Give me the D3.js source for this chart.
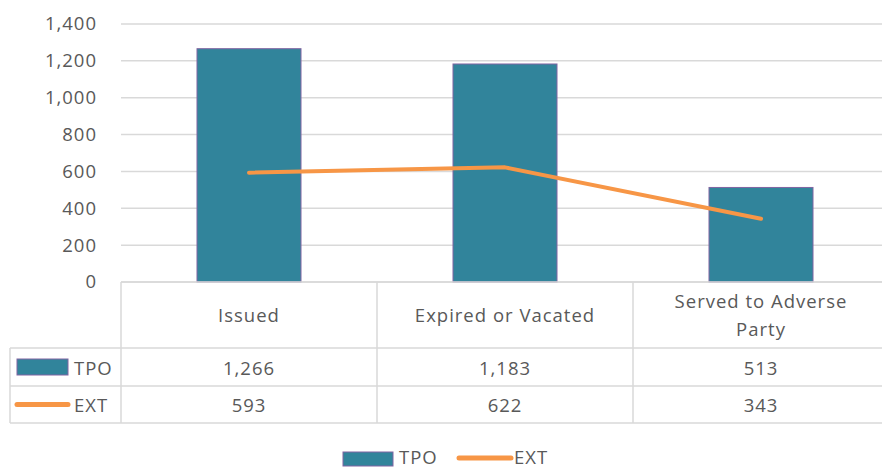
<!DOCTYPE html>
<html><head><meta charset="utf-8">
<script src="https://cdn.jsdelivr.net/npm/d3@7"></script>
<style>body{margin:0;background:#fff}svg{display:block}text{font-family:"Open Sans",sans-serif;fill:#595959;letter-spacing:1px}</style>
</head><body><svg id="c" width="882" height="468"></svg>
<script>
const categories = ["Issued", "Expired or Vacated", "Served to Adverse Party"];
const categoryLines = [["Issued"], ["Expired or Vacated"], ["Served to Adverse", "Party"]];
const tpo = [1266, 1183, 513];
const ext = [593, 622, 343];
const yTicks = [0, 200, 400, 600, 800, 1000, 1200, 1400];
const seriesNames = ["TPO", "EXT"];

const svg = d3.select("#c");
const barColor = "#31849b", barStroke = "#8064a2", lineColor = "#f79646", gridColor = "#d9d9d9";
const fs = 18.5;
const x = d3.scaleBand().domain(categories).range([121, 889]).paddingInner(0).paddingOuter(0);
const y = d3.scaleLinear().domain([0, 1400]).range([282, 24]);
const fmt = d3.format(",");

svg.append("g").selectAll("line").data(yTicks).join("line")
  .attr("x1", 121).attr("x2", 889).attr("y1", d => y(d)).attr("y2", d => y(d))
  .attr("stroke", gridColor).attr("stroke-width", 1.5);

const yAxis = d3.axisLeft(y).tickValues(yTicks).tickFormat(fmt).tickSize(0).tickPadding(0);
const ya = svg.append("g").attr("transform", "translate(97,0)").call(yAxis);
ya.select(".domain").remove();
ya.selectAll("text").style("font-size", fs + "px").style("font-family", "'Open Sans',sans-serif").attr("fill", "#595959");

const bw = 104;
svg.append("g").selectAll("rect").data(tpo).join("rect")
  .attr("x", (d, i) => x(categories[i]) + x.bandwidth() / 2 - bw / 2)
  .attr("width", bw)
  .attr("y", d => y(d)).attr("height", d => y(0) - y(d))
  .attr("fill", barColor).attr("stroke", barStroke).attr("stroke-width", 1);

const line = d3.line().x((d, i) => x(categories[i]) + x.bandwidth() / 2).y(d => y(d));
svg.append("path").datum(ext).attr("d", line).attr("fill", "none")
  .attr("stroke", lineColor).attr("stroke-width", 4).attr("stroke-linecap", "round").attr("stroke-linejoin", "round");

const tY0 = 282, tY1 = 348, tY2 = 386, tY3 = 423, tLeft = 10;
const tg = svg.append("g").attr("stroke", gridColor).attr("stroke-width", 1.5);
tg.append("line").attr("x1", 121).attr("x2", 889).attr("y1", tY0).attr("y2", tY0);
[tY1, tY2, tY3].forEach(v => tg.append("line").attr("x1", tLeft).attr("x2", 889).attr("y1", v).attr("y2", v));
tg.append("line").attr("x1", tLeft).attr("x2", tLeft).attr("y1", tY1).attr("y2", tY3);
categories.forEach(c => tg.append("line").attr("x1", x(c)).attr("x2", x(c)).attr("y1", tY0).attr("y2", tY3));

categoryLines.forEach((lines, i) => {
  const cx = x(categories[i]) + x.bandwidth() / 2;
  const mid = (tY0 + tY1) / 2 - 1;
  lines.forEach((t, j) => {
    svg.append("text").attr("x", cx).attr("y", mid + (j - (lines.length - 1) / 2) * 28)
      .attr("text-anchor", "middle").attr("dominant-baseline", "central")
      .style("font-size", fs + "px").text(t);
  });
});
[tpo, ext].forEach((arr, r) => {
  const cy = r === 0 ? (tY1 + tY2) / 2 : (tY2 + tY3) / 2;
  arr.forEach((v, i) => {
    svg.append("text").attr("x", x(categories[i]) + x.bandwidth() / 2).attr("y", cy)
      .attr("text-anchor", "middle").attr("dominant-baseline", "central")
      .style("font-size", fs + "px").text(fmt(v));
  });
  if (r === 0) {
    svg.append("rect").attr("x", 17).attr("y", cy - 8).attr("width", 51).attr("height", 16)
      .attr("fill", barColor).attr("stroke", barStroke).attr("stroke-width", 1);
  } else {
    svg.append("line").attr("x1", 17).attr("x2", 68).attr("y1", cy).attr("y2", cy)
      .attr("stroke", lineColor).attr("stroke-width", 5).attr("stroke-linecap", "round");
  }
  svg.append("text").attr("x", 74).attr("y", cy).attr("dominant-baseline", "central")
    .style("font-size", fs + "px").text(seriesNames[r]);
});

const ly = 456;
svg.append("rect").attr("x", 343).attr("y", ly - 4).attr("width", 50).attr("height", 14)
  .attr("fill", barColor).attr("stroke", barStroke).attr("stroke-width", 1);
svg.append("text").attr("x", 399).attr("y", ly).attr("dominant-baseline", "central").style("font-size", fs + "px").text(seriesNames[0]);
svg.append("line").attr("x1", 459).attr("x2", 511).attr("y1", ly + 2).attr("y2", ly + 2)
  .attr("stroke", lineColor).attr("stroke-width", 5).attr("stroke-linecap", "round");
svg.append("text").attr("x", 514).attr("y", ly).attr("dominant-baseline", "central").style("font-size", fs + "px").text(seriesNames[1]);
</script></body></html>
